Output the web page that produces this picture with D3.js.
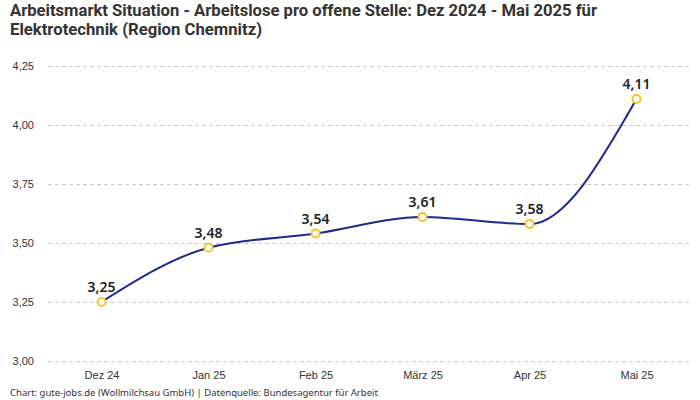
<!DOCTYPE html>
<html>
<head>
<meta charset="utf-8">
<script src="https://cdn.jsdelivr.net/npm/d3@7"></script>
<style>
  body { margin: 0; background: #fff; }
  svg { display: block; font-family: "Noto Sans", sans-serif; }
</style>
</head>
<body>
<svg id="chart" width="700" height="400"></svg>
<script>
// data
var months = ["Dez 24", "Jan 25", "Feb 25", "März 25", "Apr 25", "Mai 25"]
var values = [3.25, 3.48, 3.54, 3.61, 3.58, 4.11]
var yTicks = [3.00, 3.25, 3.50, 3.75, 4.00, 4.25]
var titleLines = [
    "Arbeitsmarkt Situation - Arbeitslose pro offene Stelle: Dez 2024 - Mai 2025 für",
    "Elektrotechnik (Region Chemnitz)"
]
var titleWidths = [587, 252]
var footer = "Chart: gute-jobs.de (Wollmilchsau GmbH) | Datenquelle: Bundesagentur für Arbeit"

var svg = d3.select("#chart")
var margin = {left:48, right:10, top:66, bottom:39}
var width = 700, height = 400

var fmt = function(v) { return d3.format(".2f")(v).replace(".", ","); }

var xScale = d3.scalePoint()
    .domain(months)
    .range([margin.left, width - margin.right])
    .padding(0.5)

var yScale = d3.scaleLinear()
    .domain([3.00, 4.25])
    .range([height - margin.bottom, margin.top])

// title (condensed look via textLength)
svg.append("g").selectAll("text")
    .data(titleLines)
    .enter()
    .append("text")
        .attr("x", 10)
        .attr("y", function(d, i) { return 16 + i * 19; })
        .attr("textLength", function(d, i) { return titleWidths[i]; })
        .attr("lengthAdjust", "spacingAndGlyphs")
        .style("font-family", "Roboto, sans-serif")
        .style("font-weight", "bold")
        .style("font-size", "17px")
        .style("fill", "#333")
        .text(function(d) { return d; })

// y grid + labels
var yAxis = d3.axisLeft(yScale)
    .tickValues(yTicks)
    .tickSize(-(width - margin.left - margin.right))
    .tickPadding(14)
    .tickFormat(fmt)

var gy = svg.append("g")
    .attr("transform", "translate(" + margin.left + ",0)")
    .call(yAxis)
gy.select(".domain").remove()
gy.selectAll(".tick line")
    .attr("stroke", "#ccc")
    .attr("stroke-dasharray", "4,3")
gy.selectAll(".tick text")
    .style("font-size", "11px")
    .style("fill", "#333")

// x labels
var xAxis = d3.axisBottom(xScale).tickSize(0).tickPadding(10)
var gx = svg.append("g")
    .attr("transform", "translate(0," + (height - margin.bottom) + ")")
    .call(xAxis)
gx.select(".domain").remove()
gx.selectAll(".tick text")
    .style("font-size", "11px")
    .style("fill", "#333")

// line
var line = d3.line()
    .x(function(d, i) { return xScale(months[i]); })
    .y(function(d) { return yScale(d); })
    .curve(d3.curveMonotoneX)

svg.append("path")
    .datum(values)
    .attr("fill", "none")
    .attr("stroke", "#1a2b8c")
    .attr("stroke-width", 2)
    .attr("d", line)

// points
svg.selectAll(".dot")
    .data(values)
    .enter()
    .append("circle")
        .attr("class", "dot")
        .attr("cx", function(d, i) { return xScale(months[i]); })
        .attr("cy", function(d) { return yScale(d); })
        .attr("r", 4)
        .attr("fill", "#fff")
        .attr("stroke", "#f9c12e")
        .attr("stroke-width", 2)

// value labels
svg.selectAll(".val")
    .data(values)
    .enter()
    .append("text")
        .attr("class", "val")
        .attr("x", function(d, i) { return xScale(months[i]); })
        .attr("y", function(d) { return yScale(d) - 10; })
        .attr("text-anchor", "middle")
        .style("font-size", "14px")
        .style("font-weight", "600")
        .style("fill", "#222")
        .text(fmt)

// footer
svg.append("text")
    .attr("x", 10)
    .attr("y", 396)
    .style("font-size", "9.5px")
    .style("fill", "#333")
    .text(footer)
</script>
</body>
</html>
